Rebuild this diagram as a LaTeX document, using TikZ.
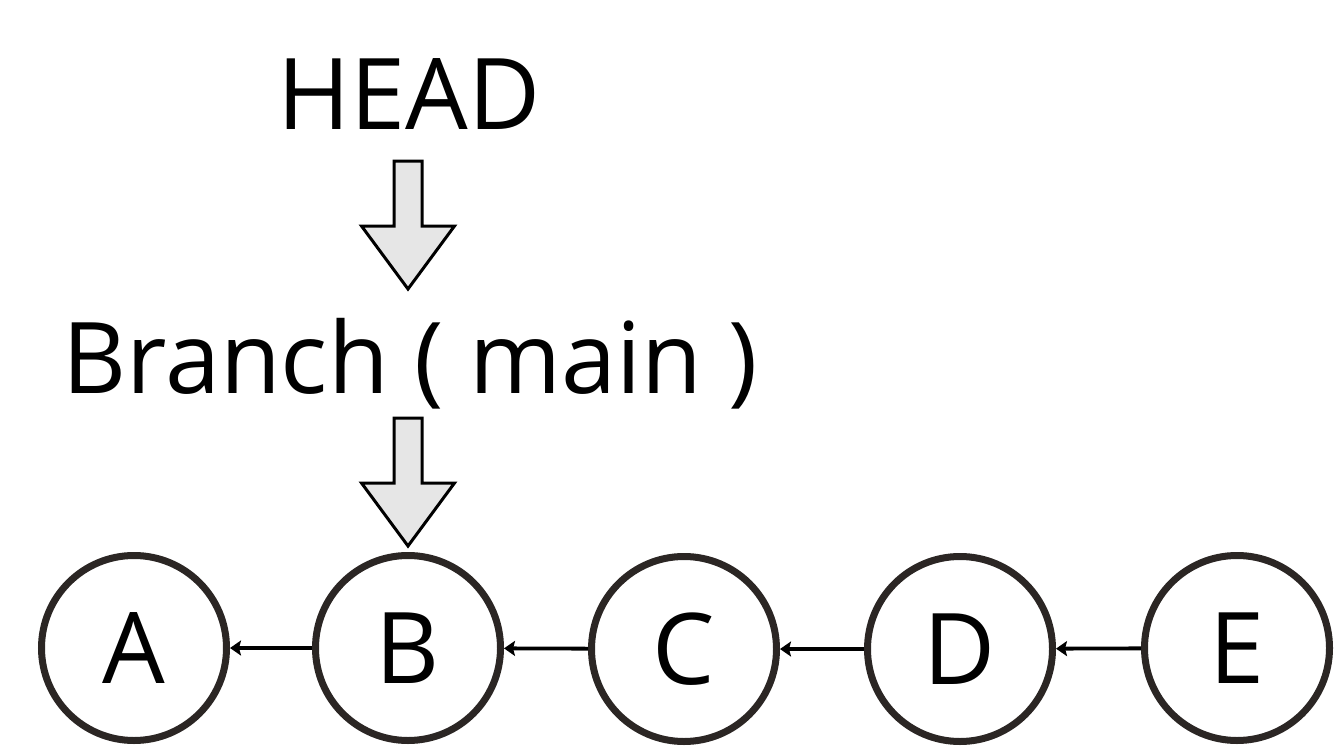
\documentclass[tikz,border=0pt]{standalone}
\usepackage{fontspec}
\setmainfont{Open Sans}
\usetikzlibrary{arrows.meta}
\definecolor{ringdark}{HTML}{2B2624}
\definecolor{blockgray}{HTML}{E6E6E6}
\begin{document}
\begin{tikzpicture}[
    x=1pt, y=-1pt,
    bigtext/.style={font=\fontsize{99}{108}\selectfont, inner sep=0pt, anchor=base},
    commit/.style={circle, draw=ringdark, line width=7pt, minimum size=185pt, inner sep=0pt,
                   font=\fontsize{99}{108}\selectfont},
    parent/.style={line width=3.8pt, -{Stealth[length=11pt, width=15pt, inset=2pt]}},
    downarrow/.pic={
      \draw[fill=blockgray, line width=3pt, line join=miter]
        (-14,0) -- (14,0) -- (14,65) -- (46.5,65) -- (0,128) -- (-46.5,65) -- (-14,65) -- cycle;
    }
  ]
  \useasboundingbox (0,0) rectangle (1335,749);

  % Labels
  \node[bigtext] (head) at (409,130) {HEAD};
  \node[bigtext] (branch) at (410,393) {Branch ( main )};

  % Pointers
  \pic at (408,161) {downarrow};
  \pic at (408,418) {downarrow};

  % Commits
  \node[commit] (A) at (134,648) {A};
  \node[commit] (B) at (408,648) {B};
  \node[commit] (C) at (684,649) {C};
  \node[commit] (D) at (960,649) {D};
  \node[commit] (E) at (1237,648) {E};

  % Parent links
  \draw[parent] (B) -- (A);
  \draw[parent] (C) -- (B);
  \draw[parent] (D) -- (C);
  \draw[parent] (E) -- (D);

\end{tikzpicture}
\end{document}
